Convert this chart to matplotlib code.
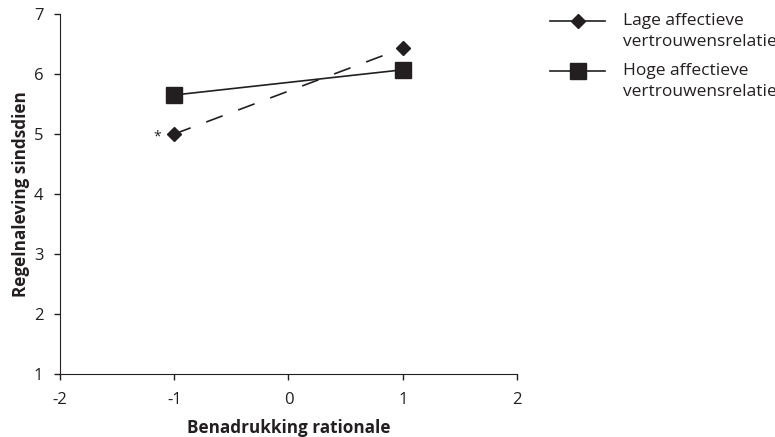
import matplotlib
matplotlib.use('Agg')
import matplotlib.pyplot as plt
from matplotlib.lines import Line2D

plt.rcParams['font.family'] = ['Open Sans', 'DejaVu Sans']

# Simple slopes: rule compliance by emphasis on rationale
x_levels = [-1, 1]
lage = [5.00, 6.43]
hoge = [5.65, 6.07]
series_labels = ['Lage affectieve\nvertrouwensrelatie', 'Hoge affectieve\nvertrouwensrelatie']

ink = '#231f20'
W, H = 775, 437

fig = plt.figure(figsize=(W / 100, H / 100), dpi=100)
ax = fig.add_axes([0.0774, 0.144, 0.5897, 0.824])

ax.plot(x_levels, lage, color=ink, lw=1.2, dashes=(10.5, 10),
        marker='D', ms=7, mfc=ink, mec=ink)
ax.plot(x_levels, hoge, color=ink, lw=1.2,
        marker='s', ms=11, mfc=ink, mec=ink)
ax.text(x_levels[0] - 0.12, lage[0] - 0.05, '*', ha='right', va='center',
        fontsize=10, color=ink)

ax.set_xlim(-2, 2)
ax.set_ylim(1, 7)
ax.set_xticks([-2, -1, 0, 1, 2])
ax.set_yticks(range(1, 8))
ax.set_xticklabels(['-2', '-1', '0', '1', '2'])
ax.tick_params(labelsize=12, colors=ink, length=4, width=1, direction='out')
ax.tick_params(axis='x', pad=9)
ax.tick_params(axis='y', pad=8)
for side in ['top', 'right']:
    ax.spines[side].set_visible(False)
for side in ['left', 'bottom']:
    ax.spines[side].set_color(ink)
ax.set_xlabel('Benadrukking rationale', fontsize=12.3, fontweight='bold',
              color=ink, labelpad=8)
ax.set_ylabel('Regelnaleving sindsdien', fontsize=12.3, fontweight='bold',
              color=ink, labelpad=3)

# legend drawn by hand so the symbol sits on the first line of each label
markers = [('D', 7), ('s', 11)]
for i, (label, (mk, ms)) in enumerate(zip(series_labels, markers)):
    y0 = 1 - (21 + 50 * i) / H
    fig.add_artist(Line2D([550 / W, 605 / W], [y0, y0], color=ink, lw=1.2,
                          transform=fig.transFigure))
    fig.add_artist(Line2D([578 / W], [y0], color=ink, marker=mk, ms=ms,
                          mfc=ink, mec=ink, transform=fig.transFigure))
    for k, part in enumerate(label.split('\n')):
        fig.text(623 / W, y0 - 21 * k / H, part, ha='left', va='center',
                 fontsize=12.5, color=ink)

fig.savefig('out.png', dpi=100)
